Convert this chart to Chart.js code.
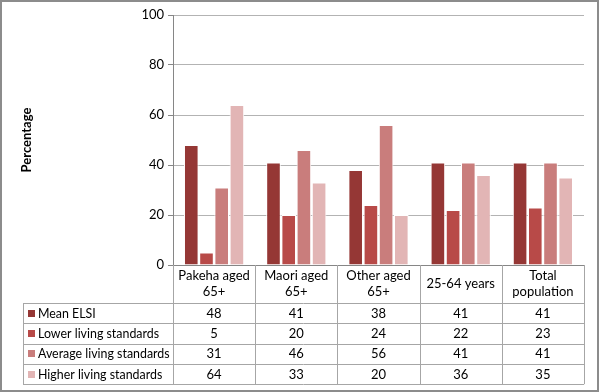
<!DOCTYPE html>
<html>
<head>
<meta charset="utf-8">
<script src="https://cdn.jsdelivr.net/npm/chart.js@4.4.1/dist/chart.umd.min.js"></script>
<style>
  html, body { margin: 0; padding: 0; background: #fff; }
  #wrap { width: 599px; height: 392px; position: relative; }
</style>
</head>
<body>
<div id="wrap"><canvas id="elsiChart" width="599" height="392"></canvas></div>
<script>
  // categories and series
  const groups = [['Pakeha aged', '65+'], ['Maori aged', '65+'], ['Other aged', '65+'], ['25-64 years'], ['Total', 'population']];
  const seriesNames = ['Mean ELSI', 'Lower living standards', 'Average living standards', 'Higher living standards'];
  const meanElsi = [48, 41, 38, 41, 41];
  const lowerLiving = [5, 20, 24, 22, 23];
  const averageLiving = [31, 46, 56, 41, 41];
  const higherLiving = [64, 33, 20, 36, 35];
  const yTicks = [0, 20, 40, 60, 80, 100];

  const seriesColors = ['#953735', '#B84A48', '#C97D7C', '#E2B5B5'];
  const seriesData = [meanElsi, lowerLiving, averageLiving, higherLiving];
  const fontName = 'Lato, "Open Sans", sans-serif';
  const lineGray = '#a6a6a6';

  // draws the data table under the plot, plus the outer frame
  const dataTable = {
    id: 'dataTable',
    afterDraw(chart) {
      const c = chart.ctx;
      const area = chart.chartArea;
      const xs = chart.scales.x;
      const colW = (area.right - area.left) / groups.length;
      const tableLeft = 23;
      const headTop = area.bottom;
      const headBottom = headTop + 38;
      const rowH = 20.3;
      const tableBottom = headBottom + rowH * seriesNames.length;

      c.save();
      c.strokeStyle = lineGray;
      c.lineWidth = 1;
      // vertical lines
      for (let i = 0; i <= groups.length; i++) {
        const x = Math.round(area.left + colW * i) + 0.5;
        c.beginPath();
        c.moveTo(x, headTop);
        c.lineTo(x, tableBottom);
        c.stroke();
      }
      c.beginPath();
      c.moveTo(tableLeft + 0.5, headBottom);
      c.lineTo(tableLeft + 0.5, tableBottom);
      c.stroke();
      // horizontal lines
      for (let r = 0; r <= seriesNames.length; r++) {
        const y = Math.round(headBottom + rowH * r) + 0.5;
        c.beginPath();
        c.moveTo(tableLeft, y);
        c.lineTo(area.right, y);
        c.stroke();
      }

      c.fillStyle = '#000';
      c.font = '13px ' + fontName;
      c.textAlign = 'center';
      c.textBaseline = 'middle';
      // category header
      groups.forEach((g, i) => {
        const cx = xs.getPixelForValue(i);
        const mid = (headTop + headBottom) / 2;
        if (g.length === 1) {
          c.fillText(g[0], cx, mid);
        } else {
          c.fillText(g[0], cx, mid - 8);
          c.fillText(g[1], cx, mid + 8);
        }
      });
      // rows
      seriesNames.forEach((name, r) => {
        const cy = headBottom + rowH * r + rowH / 2 + 0.5;
        c.fillStyle = seriesColors[r];
        c.fillRect(28, Math.round(cy) - 4, 7, 7);
        c.fillStyle = '#000';
        c.textAlign = 'left';
        c.font = '12.4px ' + fontName;
        c.fillText(name, 38, cy);
        c.textAlign = 'center';
        c.font = '13px ' + fontName;
        seriesData[r].forEach((v, i) => {
          c.fillText(String(v), xs.getPixelForValue(i), cy);
        });
      });

      // outer frame
      c.strokeStyle = '#8c8c8c';
      c.lineWidth = 2;
      c.strokeRect(1, 1, chart.width - 2, chart.height - 2);
      c.restore();
    }
  };

  new Chart(document.getElementById('elsiChart'), {
    type: 'bar',
    data: {
      labels: groups.map(g => g.join(' ')),
      datasets: seriesNames.map((name, i) => ({
        label: name,
        data: seriesData[i],
        backgroundColor: seriesColors[i],
        borderColor: '#ffffff',
        borderWidth: 1
      }))
    },
    options: {
      responsive: false,
      animation: false,
      layout: { padding: { left: 0, right: 15, top: 15, bottom: 127 } },
      plugins: {
        legend: { display: false },
        tooltip: { enabled: false }
      },
      datasets: {
        bar: { categoryPercentage: 0.74, barPercentage: 0.96 }
      },
      scales: {
        x: {
          ticks: { display: false },
          grid: { display: false },
          border: { display: true, color: '#868686' },
          afterFit(scale) { scale.height = 0; }
        },
        y: {
          min: 0,
          max: 100,
          afterBuildTicks(scale) { scale.ticks = yTicks.map(v => ({ value: v })); },
          ticks: { color: '#000', font: { family: fontName, size: 13 }, padding: 4 },
          grid: { color: '#b3b3b3', tickColor: '#868686', tickLength: 5 },
          border: { color: '#868686' },
          title: {
            display: true,
            text: 'Percentage',
            color: '#000',
            font: { family: fontName, size: 13, weight: 'bold' },
            padding: { top: 19, bottom: 4 }
          },
          afterFit(scale) { scale.width = 173; }
        }
      }
    },
    plugins: [dataTable]
  });
</script>
</body>
</html>
